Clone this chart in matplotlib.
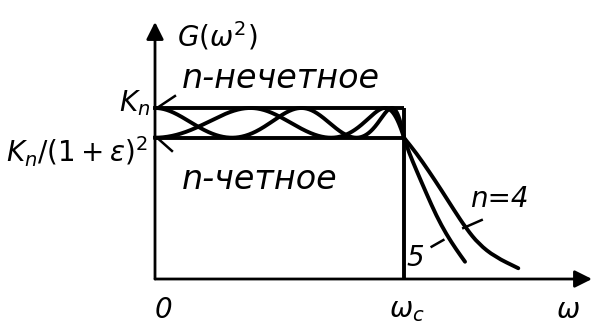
import numpy as np
import matplotlib
matplotlib.use("Agg")
import matplotlib.pyplot as plt
from matplotlib.path import Path
from matplotlib.patches import PathPatch
from numpy.polynomial import chebyshev as C

plt.rcParams["font.family"] = ["DejaVu Sans"]
plt.rcParams["mathtext.fontset"] = "dejavusans"

# Chebyshev low-pass response parameters (normalised: K_n = 1, omega_c = 1)
K_n = 1.0
eps = 0.1
omega_c = 1.0
orders = [4, 5]

# stopband roll-off as (omega/omega_c, G) pairs
tail_w_n4 = [1.0, 1.05, 1.10, 1.15, 1.20, 1.25, 1.30, 1.365, 1.459]
tail_g_n4 = [0.826, 0.735, 0.630, 0.520, 0.405, 0.295, 0.205, 0.130, 0.063]
tail_w_n5 = [1.0, 1.02, 1.05, 1.09, 1.13, 1.17, 1.21, 1.245]
tail_g_n5 = [0.826, 0.740, 0.635, 0.500, 0.370, 0.262, 0.172, 0.101]

tails = {4: (tail_w_n4, tail_g_n4), 5: (tail_w_n5, tail_g_n5)}

G_low = K_n / (1 + eps) ** 2
d = (1 + eps) ** 2 - 1

fig = plt.figure(figsize=(5.95, 3.28), dpi=100)
ax = fig.add_axes([0, 0, 1, 1])
ax.set_xlim(-0.6225, 1.767)
ax.set_ylim(-0.2865, 1.6316)
ax.axis("off")

lw = 2.8
k = "black"


def smooth_path(xs, ys):
    """Quadratic Bezier path using the given points as control vertices."""
    pts = np.column_stack([xs, ys])
    verts = [pts[0], (pts[0] + pts[1]) / 2]
    codes = [Path.MOVETO, Path.LINETO]
    for i in range(1, len(pts) - 1):
        verts += [pts[i], (pts[i] + pts[i + 1]) / 2]
        codes += [Path.CURVE3, Path.CURVE3]
    verts.append(pts[-1])
    codes.append(Path.LINETO)
    return Path(verts, codes)


# axes with arrows
ax.annotate("", xy=(0, 1.503), xytext=(0, 0),
            arrowprops=dict(arrowstyle="-|>", lw=2.0, color=k,
                            mutation_scale=26, shrinkA=0, shrinkB=0))
ax.annotate("", xy=(1.755, 0), xytext=(0, 0),
            arrowprops=dict(arrowstyle="-|>", lw=2.0, color=k,
                            mutation_scale=26, shrinkA=0, shrinkB=0))

# passband limits
ax.plot([0, omega_c], [K_n, K_n], color=k, lw=lw, solid_capstyle="butt")
ax.plot([0, omega_c], [G_low, G_low], color=k, lw=lw, solid_capstyle="butt")
ax.plot([omega_c, omega_c], [0, K_n], color=k, lw=lw, solid_capstyle="butt")

# ripple in the passband and roll-off beyond omega_c
w = np.linspace(0, omega_c, 500)
for n in orders:
    Tn = C.Chebyshev.basis(n)(w / omega_c)
    G = K_n / (1 + d * Tn ** 2)
    ax.plot(w, G, color=k, lw=lw)
    tw, tg = tails[n]
    ax.add_patch(PathPatch(smooth_path(tw, tg), fill=False, edgecolor=k,
                           lw=lw, capstyle="round"))

# leader lines
ax.plot([0.008, 0.080], [1.0, 1.070], color=k, lw=1.8)
ax.plot([0.008, 0.068], [G_low, 0.749], color=k, lw=1.8)
ax.plot([1.238, 1.312], [0.298, 0.345], color=k, lw=1.8)
ax.plot([1.111, 1.158], [0.189, 0.228], color=k, lw=1.8)

fs = 20
fs_ru = 24
tkw = dict(color=k, style="italic")
ax.text(0.088, 1.421, r"$G(\omega^2)$", fontsize=fs, ha="left", va="center", **tkw)
ax.text(0.108, 1.175, "n-нечетное", fontsize=fs_ru, ha="left", va="center", **tkw)
ax.text(0.108, 0.579, "n-четное", fontsize=fs_ru, ha="left", va="center", **tkw)
ax.text(-0.02, 1.03, r"$K_n$", fontsize=fs, ha="right", va="center", **tkw)
ax.text(-0.028, 0.743, r"$K_n/(1+\epsilon)^2$", fontsize=fs, ha="right", va="center", **tkw)
ax.text(0.032, -0.181, "0", fontsize=fs, ha="center", va="center", **tkw)
ax.text(1.012, -0.181, r"$\omega_c$", fontsize=fs, ha="center", va="center", **tkw)
ax.text(1.659, -0.181, r"$\omega$", fontsize=fs, ha="center", va="center", **tkw)
ax.text(1.265, 0.468, "n=4", fontsize=fs, ha="left", va="center", **tkw)
ax.text(1.044, 0.123, "5", fontsize=fs, ha="center", va="center", **tkw)

fig.savefig("out.png", dpi=100)
